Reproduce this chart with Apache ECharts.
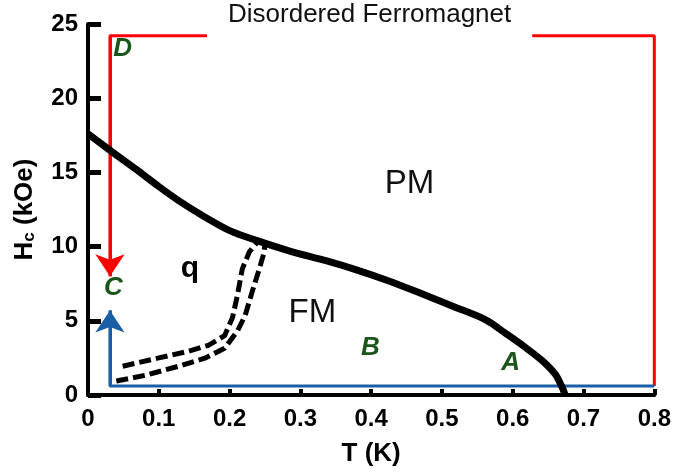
<!DOCTYPE html>
<html>
<head>
<meta charset="utf-8">
<title>Disordered Ferromagnet</title>
<script src="https://cdn.jsdelivr.net/npm/echarts@6/dist/echarts.min.js"></script>
<style>
  html, body { margin: 0; padding: 0; background: #fff; }
  #chart { width: 674px; height: 472px; }
</style>
</head>
<body>
<div id="chart"></div>
<script>
// phase boundary PM / ordered phases
var boundaryT = [0, 0.035, 0.068, 0.1, 0.128, 0.165, 0.201, 0.239, 0.285, 0.336, 0.378, 0.424, 0.47, 0.517, 0.5625, 0.59, 0.618, 0.642, 0.66, 0.669, 0.674];
var boundaryH = [17.6, 16.35, 15.2, 14.05, 13.1, 12.0, 11.06, 10.4, 9.7, 9.05, 8.45, 7.7, 6.85, 5.95, 5.05, 4.15, 3.2, 2.3, 1.4, 0.6, 0];

// the two dashed lines
var dashAT = [0.049, 0.1, 0.142, 0.17, 0.193, 0.204, 0.211, 0.218, 0.228, 0.239];
var dashAH = [1.94, 2.5, 2.95, 3.35, 4.0, 5.2, 6.7, 8.5, 9.65, 10.3];
var dashBT = [0.04, 0.082, 0.128, 0.165, 0.193, 0.211, 0.222, 0.232, 0.242, 0.249, 0.25];
var dashBH = [0.94, 1.34, 1.94, 2.48, 3.15, 4.3, 5.36, 6.97, 8.5, 9.65, 10.4];

// field / temperature paths (last point = arrow tip)
var redT = [0.8, 0.8, 0.031, 0.031];
var redH = [0.6, 24.2, 24.2, 8.0];
var blueT = [0.8, 0.031, 0.031];
var blueH = [0.6, 0.6, 5.7];

// annotations
var pointNames = ['D', 'C', 'B', 'A'];
var pointT = [0.049, 0.036, 0.399, 0.597];
var pointH = [23.3, 7.2, 3.2, 2.2];
var regionNames = ['PM', 'FM'];
var regionT = [0.454, 0.317];
var regionH = [14.2, 5.56];
var glassName = ['q'];
var glassT = [0.144];
var glassH = [8.5];

var xTicks = [0, 0.1, 0.2, 0.3, 0.4, 0.5, 0.6, 0.7, 0.8];
var yTicks = [0, 5, 10, 15, 20, 25];

function pairs(xs, ys) {
  return xs.map(function (x, i) { return [x, ys[i]]; });
}
function labelled(names, xs, ys) {
  return names.map(function (n, i) { return [xs[i], ys[i], n]; });
}
function lastSegment(xs, ys) {
  var n = xs.length;
  return [{ coords: [[xs[n - 2], ys[n - 2]], [xs[n - 1], ys[n - 1]]] }];
}
function textLabel(size, weight, style, color) {
  return {
    show: true,
    position: 'inside',
    formatter: function (p) { return p.value[2]; },
    fontFamily: 'Liberation Sans',
    fontWeight: weight,
    fontStyle: style,
    fontSize: size,
    color: color,
    opacity: 1,
    textBorderWidth: 0
  };
}

var chart = echarts.init(document.getElementById('chart'));

chart.setOption({
  animation: false,
  title: {
    text: 'Disordered Ferromagnet',
    left: 207,
    top: 0,
    padding: [2, 21, 12, 21],
    backgroundColor: '#fff',
    z: 10,
    textStyle: {
      fontFamily: 'Liberation Sans',
      fontWeight: 'normal',
      fontSize: 26,
      color: '#111'
    }
  },
  grid: {
    left: 88,
    right: 10,
    top: 24,
    bottom: 75
  },
  xAxis: {
    type: 'value',
    min: xTicks[0],
    max: xTicks[xTicks.length - 1],
    interval: 0.1,
    name: 'T (K)',
    nameLocation: 'middle',
    nameGap: 46,
    nameTextStyle: {
      fontFamily: 'Liberation Sans',
      fontWeight: 'bold',
      fontSize: 26,
      color: '#000'
    },
    splitLine: { show: false },
    axisLine: { onZero: false, lineStyle: { color: '#000', width: 4 } },
    axisTick: { inside: true, length: 6, lineStyle: { color: '#000', width: 4 } },
    axisLabel: {
      margin: 12,
      fontFamily: 'Liberation Sans',
      fontWeight: 'bold',
      fontSize: 24,
      color: '#000',
      formatter: function (v) { return v === 0 ? '0' : v.toFixed(1); }
    }
  },
  yAxis: {
    type: 'value',
    min: yTicks[0],
    max: yTicks[yTicks.length - 1],
    interval: 5,
    name: '{h|H}{s|c}{h| (kOe)}',
    nameLocation: 'middle',
    nameRotate: 90,
    nameGap: 50,
    nameTextStyle: {
      rich: {
        h: { fontFamily: 'Liberation Sans', fontWeight: 'bold', fontSize: 26, color: '#000' },
        s: { fontFamily: 'Liberation Sans', fontWeight: 'bold', fontSize: 17, color: '#000', padding: [10, 0, 0, 0] }
      }
    },
    splitLine: { show: false },
    axisLine: { onZero: false, lineStyle: { color: '#000', width: 4 } },
    axisTick: { inside: true, length: 13, lineStyle: { color: '#000', width: 5 } },
    axisLabel: {
      margin: 10,
      fontFamily: 'Liberation Sans',
      fontWeight: 'bold',
      fontSize: 24,
      color: '#000'
    }
  },
  series: [
    {
      name: 'red path',
      type: 'line',
      data: pairs(redT, redH),
      symbol: 'none',
      lineStyle: { color: '#ff0000', width: 3 },
      z: 3
    },
    {
      name: 'red arrow',
      type: 'lines',
      coordinateSystem: 'cartesian2d',
      data: lastSegment(redT, redH),
      symbol: ['none', 'arrow'],
      symbolSize: [18, 22],
      lineStyle: { color: '#ff0000', width: 3, opacity: 1 },
      itemStyle: { color: '#ff0000' },
      z: 3
    },
    {
      name: 'blue path',
      type: 'line',
      data: pairs(blueT, blueH),
      symbol: 'none',
      lineStyle: { color: '#1a5ea8', width: 3 },
      z: 3
    },
    {
      name: 'blue arrow',
      type: 'lines',
      coordinateSystem: 'cartesian2d',
      data: lastSegment(blueT, blueH),
      symbol: ['none', 'arrow'],
      symbolSize: [18, 22],
      lineStyle: { color: '#1a5ea8', width: 3, opacity: 1 },
      itemStyle: { color: '#1a5ea8' },
      z: 3
    },
    {
      name: 'boundary',
      type: 'line',
      data: pairs(boundaryT, boundaryH),
      symbol: 'none',
      smooth: 0.3,
      lineStyle: { color: '#000', width: 7 },
      z: 4
    },
    {
      name: 'dashed A',
      type: 'line',
      data: pairs(dashAT, dashAH),
      symbol: 'none',
      lineStyle: { color: '#000', width: 5, type: [12, 5] },
      z: 4
    },
    {
      name: 'dashed B',
      type: 'line',
      data: pairs(dashBT, dashBH),
      symbol: 'none',
      lineStyle: { color: '#000', width: 5, type: [12, 5] },
      z: 4
    },
    {
      name: 'points',
      type: 'scatter',
      data: labelled(pointNames, pointT, pointH),
      symbolSize: 0,
      itemStyle: { color: '#1a551a', opacity: 1 },
      z: 5,
      label: textLabel(26, 'bold', 'italic', '#1a551a')
    },
    {
      name: 'regions',
      type: 'scatter',
      data: labelled(regionNames, regionT, regionH),
      symbolSize: 0,
      itemStyle: { color: '#111', opacity: 1 },
      z: 5,
      label: textLabel(33, 'normal', 'normal', '#111')
    },
    {
      name: 'glass',
      type: 'scatter',
      data: labelled(glassName, glassT, glassH),
      symbolSize: 0,
      itemStyle: { color: '#000', opacity: 1 },
      z: 5,
      label: textLabel(30, 'bold', 'normal', '#000')
    }
  ]
});
</script>
</body>
</html>
